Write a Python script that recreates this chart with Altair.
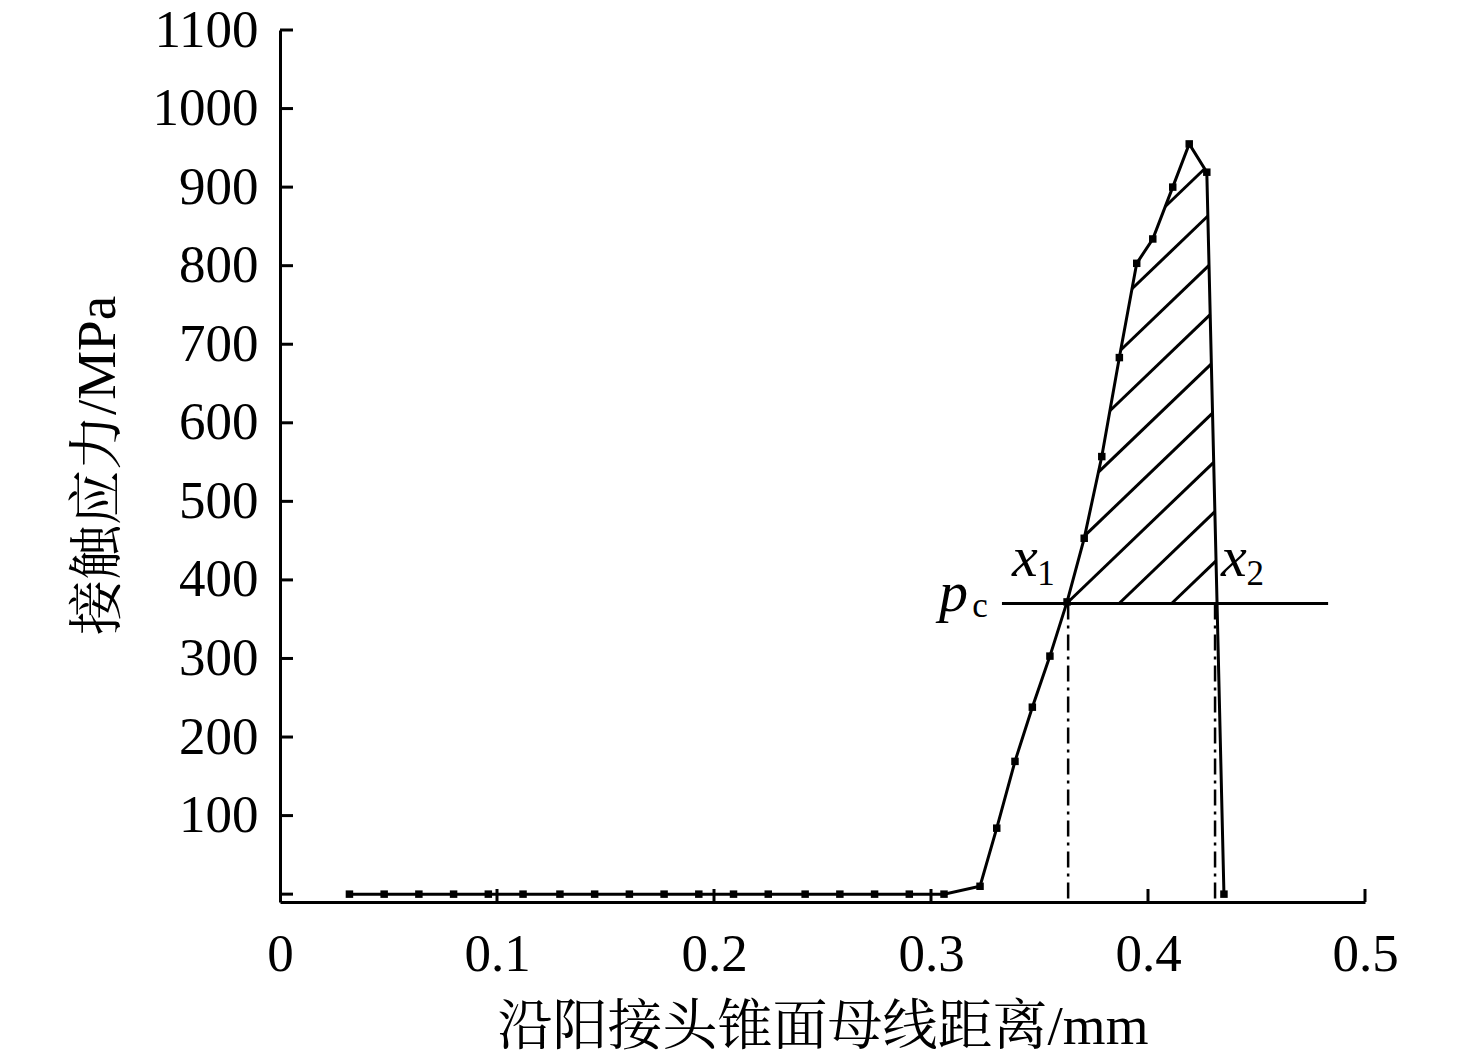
import altair as alt
import pandas as pd

# ---- data ----
x_vals = [0.032, 0.048, 0.064, 0.080, 0.096, 0.112, 0.129, 0.145, 0.161,
          0.177, 0.193, 0.209, 0.225, 0.242, 0.258, 0.274, 0.290, 0.306,
          0.3226, 0.3303, 0.3387, 0.3467, 0.3548, 0.3627, 0.3706, 0.3787,
          0.3868, 0.3948, 0.4022, 0.4114, 0.4190, 0.4271, 0.4350]
p_vals = [0, 0, 0, 0, 0, 0, 0, 0, 0,
          0, 0, 0, 0, 0, 0, 0, 0, 0,
          10, 84, 169, 238, 303, 372, 453, 557,
          683, 803, 834, 900, 955, 919, 0]

pc = 370
pc_x_start = 0.3327
pc_x_end = 0.483
x1_pos = 0.3632
x2_pos = 0.4309

x_tick_vals = [0.1, 0.2, 0.3, 0.4, 0.5]
x_label_vals = [0, 0.1, 0.2, 0.3, 0.4, 0.5]
y_tick_vals = [0, 100, 200, 300, 400, 500, 600, 700, 800, 900, 1000, 1100]
y_label_vals = [100, 200, 300, 400, 500, 600, 700, 800, 900, 1000, 1100]

x_title = "沿阳接头锥面母线距离/mm"
y_title = "接触应力/MPa"

# hatch style (slope in data units, spacing along the pc line)
hatch_slope = 2650.0
hatch_step = 0.0242

# ---- build hatch segments inside region above pc ----
def crossing(xa, pa, xb, pb, level):
    return xa + (level - pa) / (pb - pa) * (xb - xa)

i_up = next(i for i in range(len(p_vals) - 1) if p_vals[i] < pc <= p_vals[i + 1])
i_dn = next(i for i in range(i_up + 1, len(p_vals) - 1) if p_vals[i] >= pc > p_vals[i + 1])
xl = crossing(x_vals[i_up], p_vals[i_up], x_vals[i_up + 1], p_vals[i_up + 1], pc)
xr = crossing(x_vals[i_dn], p_vals[i_dn], x_vals[i_dn + 1], p_vals[i_dn + 1], pc)
poly = [(xl, pc)] + [(x_vals[i], p_vals[i]) for i in range(i_up + 1, i_dn + 1)] + [(xr, pc)]
edges = [(poly[i], poly[(i + 1) % len(poly)]) for i in range(len(poly))]

hatch_rows = []
for n in range(-12, 6):
    c = xl + n * hatch_step
    f = lambda x: pc + hatch_slope * (x - c)
    pts = []
    for (xa, ya), (xb, yb) in edges:
        h0 = ya - f(xa)
        h1 = yb - f(xb)
        if h0 * h1 <= 0 and h0 != h1:
            t = h0 / (h0 - h1)
            pts.append((xa + t * (xb - xa), ya + t * (yb - ya)))
    if len(pts) >= 2:
        a = min(pts)
        b = max(pts)
        if b[0] - a[0] > 1e-4:
            hatch_rows.append({"x": a[0], "y": a[1], "x2": b[0], "y2": b[1]})

curve = pd.DataFrame({"x": x_vals, "p": p_vals})
hatch = pd.DataFrame(hatch_rows)
pc_df = pd.DataFrame({"x": [pc_x_start], "x2": [pc_x_end], "y": [pc]})
vlines = pd.DataFrame({"x": [x1_pos, x2_pos], "y": [pc, pc], "y2": [-10, -10]})
xt = pd.DataFrame({"v": x_tick_vals})
yt = pd.DataFrame({"v": y_tick_vals})

main_texts = pd.DataFrame({"x": [0.3433, 0.4396, 0.3104], "y": [405, 405, 361],
                           "t": ["x", "x", "p"]})
sub_texts = pd.DataFrame({"x": [0.3530, 0.4494, 0.3226], "y": [393, 393, 353],
                          "t": ["1", "2", "c"]})

serif = "Liberation Serif, Noto Serif CJK SC, Noto Sans CJK SC"

xs = alt.Scale(domain=[0, 0.5], nice=False, zero=False)
ys = alt.Scale(domain=[-10, 1100], nice=False, zero=False)

X = alt.X("x:Q", scale=xs,
          axis=alt.Axis(values=x_label_vals, format="~g", title=x_title,
                        labelPadding=68, labelBaseline="alphabetic", labelFlush=False,
                        titleBaseline="alphabetic", titleY=141))
Y = alt.Y("p:Q", scale=ys,
          axis=alt.Axis(values=y_label_vals, format="d", title=y_title,
                        labelPadding=22, labelFlush=False, titleBaseline="alphabetic",
                        titleX=-166, titleY=435, titleAngle=-90))

line = alt.Chart(curve).mark_line(color="black", strokeWidth=3).encode(x=X, y=Y)
pts = alt.Chart(curve).mark_point(shape="square", filled=True, size=56,
                                  color="black", opacity=1).encode(
    x=alt.X("x:Q", scale=xs), y=alt.Y("p:Q", scale=ys))

hatch_layer = alt.Chart(hatch).mark_rule(color="black", strokeWidth=3).encode(
    x=alt.X("x:Q", scale=xs), y=alt.Y("y:Q", scale=ys), x2="x2:Q", y2="y2:Q")

pc_layer = alt.Chart(pc_df).mark_rule(color="black", strokeWidth=3).encode(
    x=alt.X("x:Q", scale=xs), x2="x2:Q", y=alt.Y("y:Q", scale=ys))

v_layer = alt.Chart(vlines).mark_rule(color="black", strokeWidth=2.5,
                                      strokeDash=[16, 6, 3, 6]).encode(
    x=alt.X("x:Q", scale=xs), y=alt.Y("y:Q", scale=ys), y2="y2:Q")

xtick_layer = alt.Chart(xt).mark_rule(color="black", strokeWidth=3).encode(
    x=alt.X("v:Q", scale=xs), y=alt.value(872), y2=alt.value(859))
ytick_layer = alt.Chart(yt).mark_rule(color="black", strokeWidth=3).encode(
    y=alt.Y("v:Q", scale=ys), x=alt.value(0), x2=alt.value(13))

t_main = alt.Chart(main_texts).mark_text(font="Liberation Serif", fontSize=58,
                                         fontStyle="italic", color="black",
                                         align="center", baseline="alphabetic").encode(
    x=alt.X("x:Q", scale=xs), y=alt.Y("y:Q", scale=ys), text="t:N")
t_sub = alt.Chart(sub_texts).mark_text(font="Liberation Serif", fontSize=35,
                                       color="black", align="center",
                                       baseline="alphabetic").encode(
    x=alt.X("x:Q", scale=xs), y=alt.Y("y:Q", scale=ys), text="t:N")

chart = alt.layer(hatch_layer, pc_layer, v_layer, line, pts, t_main, t_sub,
                  xtick_layer, ytick_layer).properties(
    width=1085, height=872,
    background="white",
    autosize=alt.AutoSizeParams(type="none"),
    padding={"left": 272, "top": 22, "right": 100, "bottom": 150},
).configure_view(stroke=None).configure_axis(
    grid=False, ticks=False, tickSize=0,
    domainColor="black", domainWidth=3,
    labelFont=serif, labelFontSize=53, labelColor="black",
    titleFont=serif, titleFontSize=55, titleFontWeight="normal", titleColor="black",
)

chart.save("out.html", embed_options={"renderer": "svg", "actions": False})
